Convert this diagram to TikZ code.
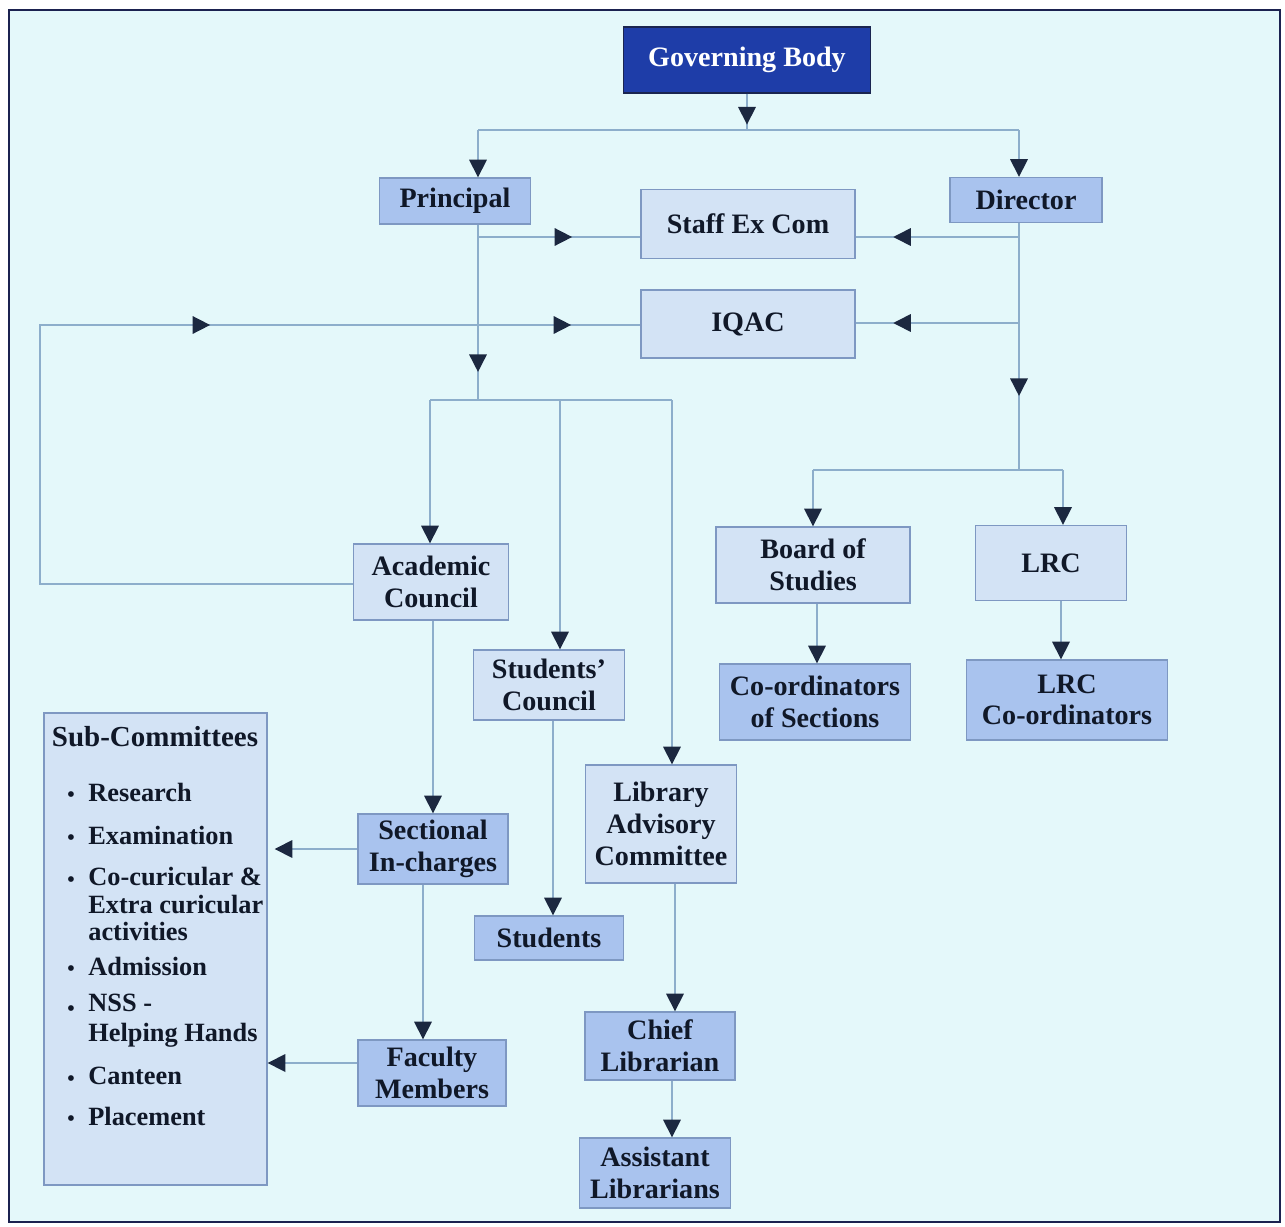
\documentclass[tikz,border=0pt]{standalone}
\usepackage{fontspec}
\setmainfont{Liberation Serif}
\usepackage{tikz}
\usetikzlibrary{arrows.meta, decorations.markings}

\definecolor{bgcyan}{HTML}{E4F8FA}
\definecolor{framenavy}{HTML}{1B2250}
\definecolor{boxlight}{HTML}{D3E3F5}
\definecolor{boxmid}{HTML}{A9C3EE}
\definecolor{boxline}{HTML}{7E98C2}
\definecolor{gbblue}{HTML}{1E3DA8}
\definecolor{gbline}{HTML}{1A2550}
\definecolor{lineblue}{HTML}{8DAECB}
\definecolor{tipnavy}{HTML}{1C2840}
\definecolor{textdark}{HTML}{101828}

\tikzset{
  lightbox/.style={draw=boxline, fill=boxlight, line width=0.8pt, text=textdark,
    font=\bfseries\fontsize{16}{18}\selectfont, align=center, inner sep=0pt},
  midbox/.style={lightbox, fill=boxmid},
  conn/.style={draw=lineblue, line width=0.9pt},
  arr/.style={-{Triangle[length=10pt,width=10pt,color=tipnavy]}},
  tipat/.style={postaction={decorate, decoration={markings,
    mark=at position #1 with {\arrow{Triangle[length=10pt,width=10pt,color=tipnavy]}}}}},
  subitem/.style={anchor=west, inner sep=0pt, text=textdark, align=left,
    font=\bfseries\fontsize{15}{16}\selectfont},
  bul/.style={inner sep=0pt, text=textdark, font=\bfseries\fontsize{12}{12}\selectfont}
}

\begin{document}
\begin{tikzpicture}[x=0.02cm, y=-0.02cm]

\useasboundingbox (0,0) rectangle (1285,1227);
\fill[white] (0,0) rectangle (1285,1227);

% Frame
\filldraw[fill=bgcyan, draw=framenavy, line width=1.5pt] (9,10) rectangle (1280,1222);

% Top level
\node[lightbox, fill=gbblue, draw=gbline, text=white, minimum width=4.94cm, minimum height=1.32cm] (gb) at (747,60) {Governing Body};
\node[midbox, minimum width=3.02cm, minimum height=0.92cm] (princ) at (455,201) {Principal};
\node[midbox, minimum width=3.04cm, minimum height=0.90cm] (dir) at (1026,200) {Director};
\node[lightbox, minimum width=4.28cm, minimum height=1.38cm] (staff) at (748,224) {Staff Ex Com};
\node[lightbox, minimum width=4.28cm, minimum height=1.36cm] (iqac) at (748,324) {IQAC};

% Principal side
\node[lightbox, minimum width=3.10cm, minimum height=1.52cm] (acad) at (431,582) {Academic\\Council};
\node[lightbox, minimum width=3.02cm, minimum height=1.40cm] (stuc) at (549,685) {Students’\\Council};
\node[lightbox, minimum width=3.02cm, minimum height=2.36cm] (lac) at (661,824) {Library\\Advisory\\Committee};
\node[midbox, minimum width=3.00cm, minimum height=1.40cm] (sect) at (433,849) {Sectional\\In-charges};
\node[midbox, minimum width=2.98cm, minimum height=0.88cm] (stud) at (549,938) {Students};
\node[midbox, minimum width=2.96cm, minimum height=1.32cm] (fac) at (432,1073) {Faculty\\Members};
\node[midbox, minimum width=3.00cm, minimum height=1.36cm] (chief) at (660,1046) {Chief\\Librarian};
\node[midbox, minimum width=3.02cm, minimum height=1.40cm] (asst) at (655,1173) {Assistant\\Librarians};

% Director side
\node[lightbox, minimum width=3.88cm, minimum height=1.52cm] (bos) at (813,565) {Board of\\Studies};
\node[lightbox, minimum width=3.02cm, minimum height=1.50cm] (lrc) at (1051,563) {LRC};
\node[midbox, minimum width=3.82cm, minimum height=1.52cm] (coord) at (815,702) {Co-ordinators\\of Sections};
\node[midbox, minimum width=4.02cm, minimum height=1.60cm] (lrcc) at (1067,700) {LRC\\Co-ordinators};

% Sub-Committees
\node[lightbox, minimum width=4.46cm, minimum height=9.44cm] (subc) at (155.5,949) {};
\node[subitem, anchor=center, font=\bfseries\fontsize{16.5}{18}\selectfont] (subt) at (155,737) {Sub-Committees};
\node[subitem] (res) at (88,792) {Research};
\node[subitem] (exam) at (88,835) {Examination};
\node[subitem, font=\bfseries\fontsize{15}{15.5}\selectfont] (cocur) at (88,904) {Co-curicular \&\\Extra curicular\\activities};
\node[subitem] (adm) at (88,966) {Admission};
\node[subitem, font=\bfseries\fontsize{15}{17}\selectfont] (nss) at (88,1021) {NSS -\\Helping Hands};
\node[subitem] (cant) at (88,1076) {Canteen};
\node[subitem] (plac) at (88,1116) {Placement};
\foreach \y in {792,835,877,966,1006,1076,1116}
  \node[bul] at (71,\y+5) {\textbullet};

% Governing Body to Principal and Director
\coordinate (gbj) at (747,130);
\coordinate (pj) at (478,130);
\coordinate (dj) at (1019,130);
\draw[conn, tipat=0.85] (gb.south) -- (gbj);
\draw[conn] (pj) -- (dj);
\draw[conn, arr] (pj) -- (pj |- princ.north);
\draw[conn, arr] (dj) -- (dj |- dir.north);

% Principal branches
\coordinate (pv) at (478,400);
\coordinate (ps) at (478,237);
\draw[conn, tipat=0.84] (pv |- princ.south) -- (pv);
\draw[conn, tipat=0.58] (ps) -- (ps -| staff.west);
\coordinate (acj) at (430,400);
\coordinate (scj) at (560,400);
\coordinate (lacj) at (672,400);
\draw[conn] (acj) -- (lacj);
\draw[conn, arr] (acj) -- (acj |- acad.north);
\draw[conn, arr] (scj) -- (scj |- stuc.north);
\draw[conn, arr] (lacj) -- (lacj |- lac.north);

% Director branches
\coordinate (dv) at (1019,470);
\coordinate (ds) at (1019,237);
\coordinate (di) at (1019,323);
\draw[conn, tipat=0.70] (dv |- dir.south) -- (dv);
\draw[conn, tipat=0.77] (ds) -- (ds -| staff.east);
\draw[conn, tipat=0.77] (di) -- (di -| iqac.east);
\coordinate (bosj) at (813,470);
\coordinate (lrcj) at (1063,470);
\draw[conn] (bosj) -- (lrcj);
\draw[conn, arr] (bosj) -- (bosj |- bos.north);
\draw[conn, arr] (lrcj) -- (lrcj |- lrc.north);

% Academic Council back to IQAC
\coordinate (lpa) at (40,584);
\coordinate (lpb) at (40,325);
\draw[conn, tipat=0.633, tipat=0.941] (acad.west |- lpa) -- (lpa) -- (lpb) -- (lpb -| iqac.west);

% Chains downwards
\coordinate (xas) at (433,0);
\coordinate (xss) at (553,0);
\coordinate (xlc) at (675,0);
\coordinate (xca) at (672,0);
\coordinate (xsf) at (423,0);
\coordinate (xbc) at (817,0);
\coordinate (xll) at (1061,0);
\draw[conn, arr] (acad.south -| xas) -- (sect.north -| xas);
\draw[conn, arr] (stuc.south -| xss) -- (stud.north -| xss);
\draw[conn, arr] (lac.south -| xlc) -- (chief.north -| xlc);
\draw[conn, arr] (chief.south -| xca) -- (asst.north -| xca);
\draw[conn, arr] (sect.south -| xsf) -- (fac.north -| xsf);
\draw[conn, arr] (bos.south -| xbc) -- (coord.north -| xbc);
\draw[conn, arr] (lrc.south -| xll) -- (lrcc.north -| xll);

% To the Sub-Committees
\coordinate (ysf) at (0,1063);
\draw[conn, arr, shorten >=4pt] (sect.west) -- (sect.west -| subc.east);
\draw[conn, arr] (fac.west |- ysf) -- (subc.east |- ysf);

\end{tikzpicture}
\end{document}
